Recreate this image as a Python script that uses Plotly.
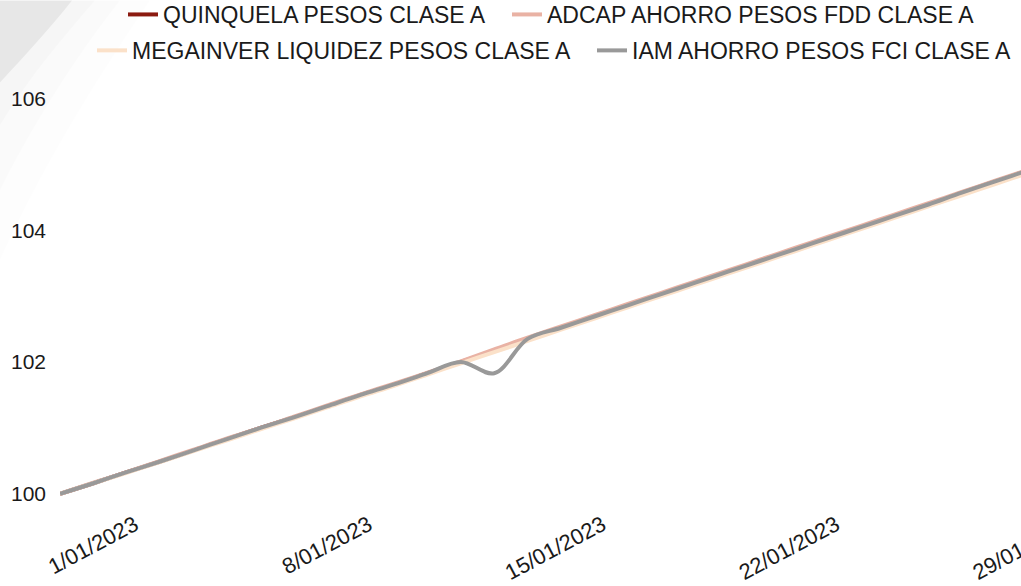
import pandas as pd
import plotly.graph_objects as go

# ---------------- data ----------------
dates = pd.date_range("2022-12-30", "2023-01-31", freq="D").strftime("%Y-%m-%d").tolist()

iam = [100.00, 100.16, 100.33, 100.49, 100.66, 100.83, 101.00, 101.16, 101.33, 101.50,
       101.66, 101.83, 102.00, 101.83, 102.35, 102.52, 102.69, 102.86, 103.03, 103.20,
       103.37, 103.54, 103.71, 103.88, 104.05, 104.22, 104.39, 104.57, 104.74, 104.91,
       105.08, 105.26, 105.43]
adcap = [100.00, 100.17, 100.33, 100.50, 100.67, 100.84, 101.00, 101.17, 101.34, 101.51,
         101.67, 101.84, 102.01, 102.19, 102.37, 102.54, 102.71, 102.88, 103.05, 103.22,
         103.39, 103.56, 103.73, 103.90, 104.07, 104.24, 104.41, 104.58, 104.75, 104.92,
         105.09, 105.27, 105.44]
megainver = [100.00, 100.16, 100.32, 100.48, 100.65, 100.81, 100.98, 101.14, 101.31, 101.48,
             101.64, 101.81, 101.98, 102.15, 102.32, 102.49, 102.66, 102.83, 103.00, 103.17,
             103.34, 103.51, 103.68, 103.85, 104.02, 104.19, 104.36, 104.53, 104.70, 104.87,
             105.04, 105.21, 105.38]
quinquela = [100.00, 100.16, 100.33, 100.49, 100.66, 100.83, 101.00, 101.16, 101.33, 101.50,
             101.66, 101.83, 102.00, 102.17, 102.35, 102.52, 102.69, 102.86, 103.03, 103.20,
             103.37, 103.54, 103.71, 103.88, 104.05, 104.22, 104.39, 104.57, 104.74, 104.91,
             105.08, 105.26, 105.43]

names = ["QUINQUELA PESOS CLASE A", "ADCAP AHORRO PESOS FDD CLASE A",
         "MEGAINVER LIQUIDEZ PESOS CLASE A", "IAM AHORRO PESOS FCI CLASE A"]
series = [quinquela, adcap, megainver, iam]
colors = ["#8B1A10", "#E9B2A4", "#FBE1C9", "#999999"]

y_ticks = [100, 102, 104, 106]
x_ticks = ["2023-01-01", "2023-01-08", "2023-01-15", "2023-01-22", "2023-01-29"]
x_ticktext = ["1/01/2023", "8/01/2023", "15/01/2023", "22/01/2023", "29/01/2023"]

# ---------------- layout geometry (pixels) ----------------
W, H = 1200, 586
L, R = 60, 1150          # plot area left/right
T, B = 71.6, 507.2       # plot area top/bottom
PW, PH = R - L, B - T
PX_PER_DAY = 33.4

def px(x):
    return (x - L) / PW

def py(y):
    return (B - y) / PH

x_start = pd.Timestamp("2022-12-30")
x_end = x_start + pd.Timedelta(days=PW / PX_PER_DAY)

# legend item placement: (legend id, item left px, row centre px)
legend_pos = [("legend", 123, 14), ("legend2", 507, 14),
              ("legend3", 92, 50), ("legend4", 592, 50)]

fig = go.Figure()
for name, vals, col, (lg, _, _) in zip(names, series, colors, legend_pos):
    fig.add_trace(go.Scatter(
        x=dates, y=vals, mode="lines", name=name, legend=lg, showlegend=True,
        line=dict(color=col, width=4, shape="spline", smoothing=1.0),
        hoverinfo="x+y+name",
    ))

font_family = "Liberation Sans, Arial, sans-serif"
text_col = "#1a1a1a"

# decorative swoosh in the upper-left corner
def path(points_px):
    (x0, y0) = points_px[0]
    s = f"M {px(x0)},{py(y0)}"
    for seg in points_px[1:]:
        if len(seg) == 6:
            s += f" C {px(seg[0])},{py(seg[1])} {px(seg[2])},{py(seg[3])} {px(seg[4])},{py(seg[5])}"
        else:
            s += f" L {px(seg[0])},{py(seg[1])}"
    return s + " Z"

shapes = []
for pts, fillc in [
    ([(0, 0), (150, 0), (110, 60, 50, 150, 0, 260), (0, 0)], "rgba(0,0,0,0.008)"),
    ([(0, 0), (120, 0), (85, 45, 40, 110, 0, 190), (0, 0)], "rgba(0,0,0,0.01)"),
    ([(0, 0), (95, 0), (65, 35, 30, 75, 0, 125), (0, 0)], "rgba(0,0,0,0.014)"),
    ([(0, 0), (72, 0), (50, 28, 25, 55, 0, 82), (0, 0)], "rgba(0,0,0,0.06)"),
]:
    shapes.append(dict(type="path", path=path(pts), xref="paper", yref="paper",
                       fillcolor=fillc, line=dict(width=0), layer="below"))

layout_legends = {}
for lg, xl, yc in legend_pos:
    layout_legends[lg] = dict(orientation="h", x=px(xl), y=py(yc), xanchor="left",
                              yanchor="middle", font=dict(size=23, color=text_col),
                              bgcolor="rgba(0,0,0,0)", itemwidth=30, visible=True)

fig.update_layout(
    width=W, height=H,
    showlegend=True,
    margin=dict(l=L, r=W - R, t=T, b=H - B, pad=0, autoexpand=False),
    paper_bgcolor="white", plot_bgcolor="white",
    font=dict(family=font_family, size=21, color=text_col),
    shapes=shapes,
    xaxis=dict(type="date", range=[x_start, x_end], tickvals=x_ticks, ticktext=x_ticktext,
               tickangle=-28, showgrid=False, zeroline=False, showline=False,
               ticks="", ticklabelshift=8, tickfont=dict(size=22, color=text_col),
               automargin=False),
    yaxis=dict(range=[99.8, 106.4], tickvals=y_ticks, ticktext=[str(v) for v in y_ticks],
               showgrid=False, zeroline=False, showline=False, ticks="",
               ticklabelstandoff=13, tickfont=dict(size=21, color=text_col), automargin=False),
    hovermode="closest",
    **layout_legends,
)

fig.write_html("out.html", config={"displayModeBar": False},
               post_script="document.body.style.margin='0';document.body.style.overflow='hidden';"
                           "document.documentElement.style.overflow='hidden';")
